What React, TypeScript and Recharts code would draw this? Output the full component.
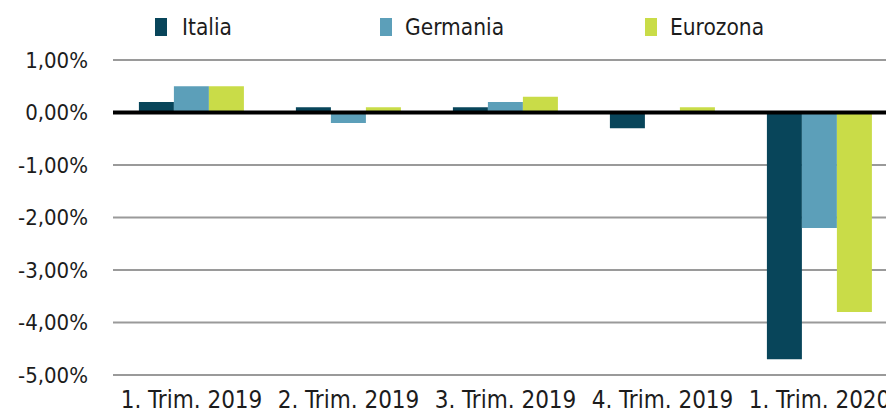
import { FC } from 'react'
import {
    Bar,
    BarChart,
    CartesianGrid,
    Legend,
    ReferenceLine,
    XAxis,
    YAxis,
} from 'recharts'

const quarters = ['1. Trim. 2019', '2. Trim. 2019', '3. Trim. 2019', '4. Trim. 2019', '1. Trim. 2020']
const italia = [0.2, 0.1, 0.1, -0.3, -4.7]
const germania = [0.5, -0.2, 0.2, 0.0, -2.2]
const eurozona = [0.5, 0.1, 0.3, 0.1, -3.8]
const yTicks = [-5, -4, -3, -2, -1, 0, 1]

const seriesInfo = [
    { key: 'italia', name: 'Italia', color: '#08455a', left: 155 },
    { key: 'germania', name: 'Germania', color: '#5c9fb9', left: 380 },
    { key: 'eurozona', name: 'Eurozona', color: '#c9dc48', left: 645 },
]

const data = quarters.map((q, i) => ({
    quarter: q,
    italia: italia[i],
    germania: germania[i],
    eurozona: eurozona[i],
}))

const FONT = "'DejaVu Sans Condensed', 'Liberation Sans Narrow', sans-serif"
const TEXT = '#1c1c1c'

const formatPct = (v: number) => v.toFixed(2).replace('.', ',') + '%'

const LegendContent: FC = () => (
    <div style={{ position: 'relative', width: 886, height: 30 }}>
        {seriesInfo.map((s) => (
            <div
                key={s.key}
                style={{
                    position: 'absolute',
                    left: s.left,
                    top: 0,
                    display: 'flex',
                    alignItems: 'center',
                    height: 30,
                }}
            >
                <span style={{ width: 12, height: 18, background: s.color, display: 'inline-block' }} />
                <span
                    style={{
                        marginLeft: s.key === 'italia' ? 15 : 13,
                        fontFamily: FONT,
                        fontSize: 22.5,
                        color: TEXT,
                    }}
                >
                    {s.name}
                </span>
            </div>
        ))}
    </div>
)

const App: FC = () => {
    return (
        <div style={{ position: 'absolute', left: 0, top: 0, background: '#fff' }}>
            <BarChart
                width={886}
                height={412}
                data={data}
                margin={{ top: 60, right: -12, bottom: 0, left: 0 }}
                barCategoryGap="16.5%"
                barGap={0}
            >
                <CartesianGrid vertical={false} stroke="#9a9a9a" strokeWidth={2} />
                <XAxis
                    dataKey="quarter"
                    axisLine={false}
                    tickLine={false}
                    tickSize={0}
                    tickMargin={16}
                    height={37}
                    interval={0}
                    tick={{ fill: TEXT, fontSize: 24, fontFamily: FONT }}
                />
                <YAxis
                    domain={[-5, 1]}
                    ticks={yTicks}
                    width={113}
                    axisLine={false}
                    tickLine={false}
                    tickSize={0}
                    tickMargin={25}
                    tickFormatter={formatPct}
                    tick={{ fill: TEXT, fontSize: 22, fontFamily: FONT }}
                />
                <Legend
                    layout="horizontal"
                    verticalAlign="middle"
                    align="center"
                    wrapperStyle={{ top: 12, left: 0, width: 886 }}
                    content={<LegendContent />}
                />
                {seriesInfo.map((s) => (
                    <Bar
                        key={s.key}
                        dataKey={s.key}
                        name={s.name}
                        fill={s.color}
                        isAnimationActive={false}
                    />
                ))}
                <ReferenceLine y={0} stroke="#000" strokeWidth={4} />
            </BarChart>
        </div>
    )
}

export default App
